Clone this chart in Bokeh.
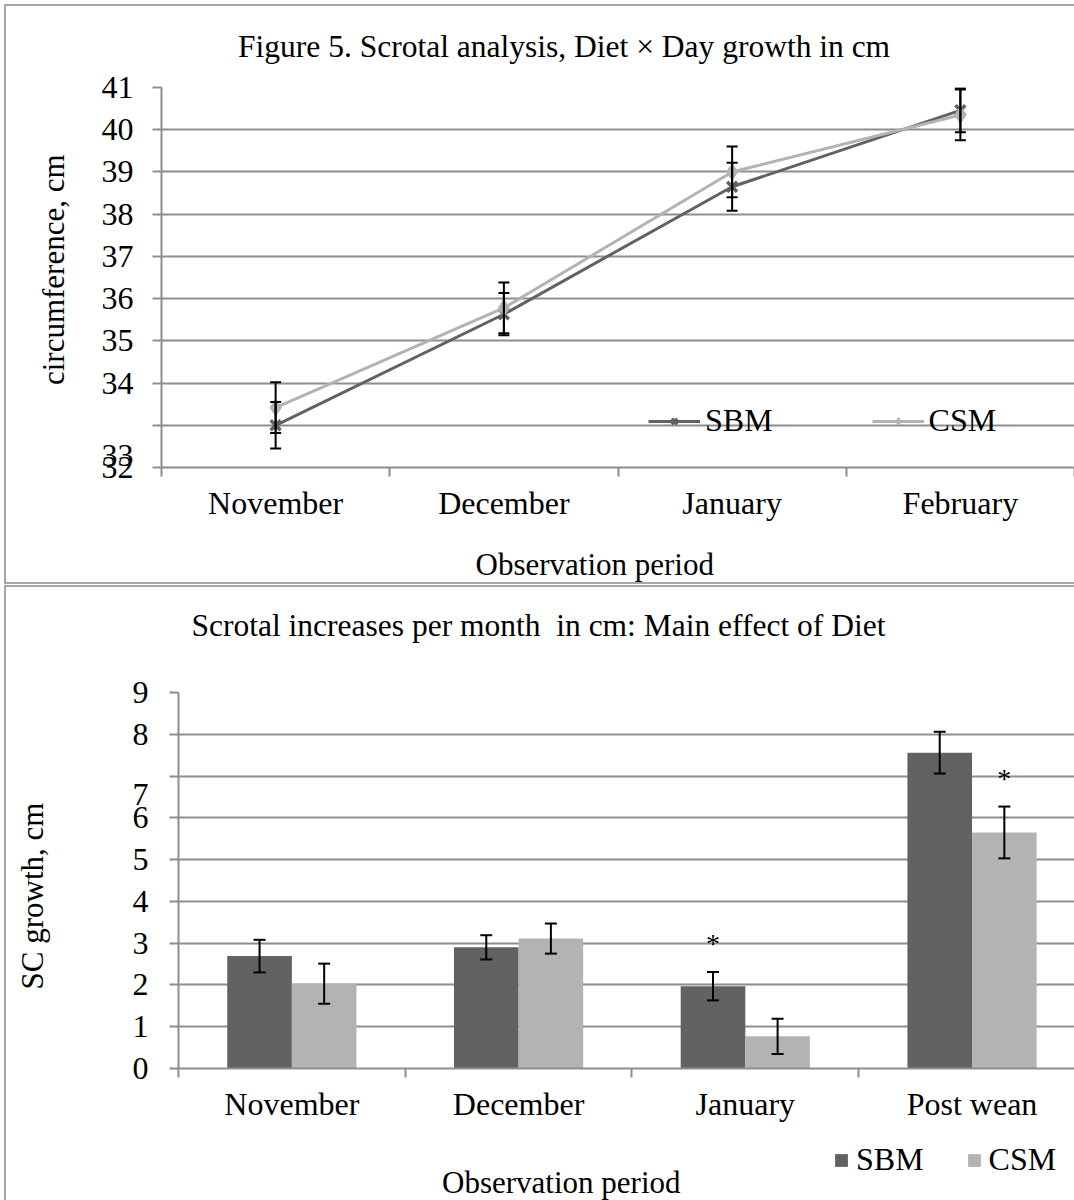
import numpy as np
from bokeh.plotting import figure
from bokeh.layouts import column
from bokeh.models import (ColumnDataSource, Range1d, FixedTicker, Whisker, TeeHead,
                          Legend, LegendItem, LinearAxis, Label)
from bokeh.embed import file_html
from bokeh.resources import INLINE
from bokeh.core.properties import value

# ---------------- data: Figure 5 (circumference) ----------------
months1 = ["November", "December", "January", "February"]
sbm_circ = [33.00, 35.63, 38.65, 40.46]
sbm_circ_se = [0.55, 0.50, 0.57, 0.52]
csm_circ = [33.42, 35.78, 39.00, 40.35]
csm_circ_se = [0.60, 0.60, 0.60, 0.60]
y1_ticks = [32, 33, 34, 35, 36, 37, 38, 39, 40, 41]
# tick labels as printed in the original (the "33" and "32" labels are crowded at the bottom)
y1_label_pos = [32.0, 32.28, 34, 35, 36, 37, 38, 39, 40, 41]
y1_labels = ["32", "33", "34", "35", "36", "37", "38", "39", "40", "41"]

# ---------------- data: monthly increases ----------------
months2 = ["November", "December", "January", "Post wean"]
sbm_growth = [2.69, 2.90, 1.97, 7.56]
sbm_growth_se = [0.39, 0.29, 0.34, 0.50]
csm_growth = [2.03, 3.11, 0.77, 5.65]
csm_growth_se = [0.48, 0.36, 0.42, 0.62]
sbm_sig = ["", "", "*", ""]
csm_sig = ["", "", "", "*"]
y2_ticks = [0, 1, 2, 3, 4, 5, 6, 7, 8, 9]
# the "7" label is printed just above the "6" label in the original
y2_label_pos = [0, 1, 2, 3, 4, 5, 6, 6.55, 8, 9]
y2_labels = ["0", "1", "2", "3", "4", "5", "6", "7", "8", "9"]

series_names = ["SBM", "CSM"]
title1 = "Figure 5. Scrotal analysis, Diet \u00d7 Day growth in cm"
title2 = "Scrotal increases per month  in cm: Main effect of Diet"
xlabel = "Observation period"

# ---------------- styles ----------------
FONT = "Liberation Serif"
TICK_FS = "32px"
LAB_FS = "31px"
TITLE_FS = "31.5px"
DARK = "#626262"
LIGHT = "#b3b3b3"
GRID = "#8e8e8e"
EDGE = "#a6a6a6"
NB = "\u00a0"
W = 1074


def key(t):
    t = float(t)
    return int(t) if t.is_integer() else t


def keep_spaces(s):
    # keep doubled spaces visible in SVG text
    return s.replace("  ", " " + NB)


def base_style(p):
    p.outline_line_color = None
    p.border_fill_color = None
    p.background_fill_color = None


def chart_style(p):
    base_style(p)
    p.xgrid.visible = False
    p.ygrid.grid_line_color = GRID
    p.ygrid.grid_line_width = 2


def y_axes(p, ticks, label_pos, labels, title, title_standoff, label_standoff):
    ya = p.yaxis[0]
    ya.ticker = FixedTicker(ticks=ticks)
    p.ygrid.ticker = FixedTicker(ticks=ticks)
    ya.major_label_overrides = {key(t): "" for t in ticks}
    ya.major_label_standoff = 0
    ya.axis_line_color = GRID
    ya.axis_line_width = 2
    ya.major_tick_line_color = GRID
    ya.major_tick_line_width = 2
    ya.major_tick_out = 9
    ya.major_tick_in = 0
    ya.minor_tick_line_color = None
    lab = LinearAxis(ticker=FixedTicker(ticks=label_pos),
                     major_label_overrides={key(t): s for t, s in zip(label_pos, labels)},
                     axis_line_color=None, major_tick_line_color=None, minor_tick_line_color=None,
                     major_tick_out=0, major_tick_in=0, major_label_standoff=label_standoff,
                     major_label_text_font=FONT, major_label_text_font_size=TICK_FS,
                     major_label_text_color="black",
                     axis_label=title, axis_label_standoff=title_standoff,
                     axis_label_text_font=FONT, axis_label_text_font_size=LAB_FS,
                     axis_label_text_font_style="normal", axis_label_text_color="black")
    p.add_layout(lab, "left")


def x_axis(p, cats, title=None, title_standoff=0):
    xa = p.xaxis[0]
    centers = [float(c) for c in np.arange(len(cats)) + 0.5]
    xa.ticker = FixedTicker(ticks=centers, minor_ticks=list(range(len(cats) + 1)))
    xa.major_label_overrides = {key(c): name for c, name in zip(centers, cats)}
    xa.axis_line_color = GRID
    xa.axis_line_width = 2
    xa.major_tick_line_color = None
    xa.major_tick_out = 0
    xa.major_tick_in = 0
    xa.minor_tick_line_color = GRID
    xa.minor_tick_line_width = 2
    xa.minor_tick_out = 9
    xa.minor_tick_in = 0
    xa.major_label_standoff = 8
    xa.major_label_text_font = FONT
    xa.major_label_text_font_size = TICK_FS
    xa.major_label_text_color = "black"
    if title:
        xa.axis_label = title
        xa.axis_label_standoff = title_standoff
        xa.axis_label_text_font = FONT
        xa.axis_label_text_font_size = LAB_FS
        xa.axis_label_text_font_style = "normal"
        xa.axis_label_text_color = "black"


def strip(height, shadow):
    s = figure(width=W, height=height, x_range=Range1d(0, W), y_range=Range1d(0, height),
               x_axis_location=None, y_axis_location=None, min_border=0,
               output_backend="svg", toolbar_location=None, frame_align=False)
    base_style(s)
    s.xgrid.visible = False
    s.ygrid.visible = False
    s.styles = {"box-shadow": shadow}
    return s


LEFT_EDGE = f"inset 4px 0 0 0 #ffffff, inset 6px 0 0 0 {EDGE}"

# ================= top chart =================
p1 = figure(width=W, height=584, x_range=Range1d(0, 4), y_range=Range1d(32, 41),
            output_backend="svg", toolbar_location=None, frame_align=False,
            min_border_left=161, min_border_right=0, min_border_top=87, min_border_bottom=114)
p1.styles = {"box-shadow": f"inset 4px 4px 0 0 #ffffff, inset 6px 6px 0 0 {EDGE}, inset 0 -2px 0 0 {EDGE}"}
chart_style(p1)
p1.title.text = title1
p1.title.align = "left"
p1.title.offset = 76.6
p1.title.standoff = 48
p1.title.text_font = FONT
p1.title.text_font_size = TITLE_FS
p1.title.text_font_style = "normal"
p1.title.text_color = "black"
y_axes(p1, y1_ticks, y1_label_pos, y1_labels, NB * 2 + "circumference, cm", 28, 19)
x_axis(p1, months1, xlabel + NB * 6, 23)

x1 = np.arange(len(months1)) + 0.5
src1 = ColumnDataSource(dict(
    x=x1,
    sbm=sbm_circ, sbm_lo=np.array(sbm_circ) - np.array(sbm_circ_se),
    sbm_hi=np.array(sbm_circ) + np.array(sbm_circ_se),
    csm=csm_circ, csm_lo=np.array(csm_circ) - np.array(csm_circ_se),
    csm_hi=np.array(csm_circ) + np.array(csm_circ_se),
))

l_sbm = p1.line("x", "sbm", source=src1, line_color=DARK, line_width=3)
m_sbm = p1.scatter("x", "sbm", source=src1, marker="x", size=14, line_width=3.5, color=DARK)
l_csm = p1.line("x", "csm", source=src1, line_color=LIGHT, line_width=3)
m_csm = p1.scatter("x", "csm", source=src1, marker="diamond", size=17, color=LIGHT)

for k in ("sbm", "csm"):
    p1.add_layout(Whisker(base="x", lower=k + "_lo", upper=k + "_hi", source=src1,
                          line_color="black", line_width=2, level="overlay",
                          upper_head=TeeHead(size=11, line_width=2, line_color="black"),
                          lower_head=TeeHead(size=11, line_width=2, line_color="black")))

leg1 = Legend(items=[LegendItem(label=series_names[0], renderers=[l_sbm, m_sbm]),
                     LegendItem(label=series_names[1], renderers=[l_csm, m_csm])],
              location=(487, 28), orientation="horizontal", glyph_width=52, glyph_height=20,
              label_standoff=5, spacing=99, padding=0, margin=0,
              border_line_color=None, background_fill_alpha=0,
              label_text_font=FONT, label_text_font_size=TICK_FS, label_text_color="black")
p1.add_layout(leg1)

# ================= bottom chart: title strip =================
p2t = strip(88, f"inset 4px 1px 0 0 #ffffff, inset 6px 3px 0 0 {EDGE}")
p2t.add_layout(Label(x=191, y=47, text=keep_spaces(title2), text_align="left",
                     text_baseline="middle", text_font=FONT, text_font_size=TITLE_FS,
                     text_color="black"))

# ================= bottom chart =================
p2 = figure(width=W, height=458, x_range=Range1d(0, 3.952), y_range=Range1d(0, 9),
            output_backend="svg", toolbar_location=None, frame_align=False,
            min_border_left=178, min_border_right=0, min_border_top=20, min_border_bottom=62)
p2.styles = {"box-shadow": LEFT_EDGE}
chart_style(p2)
y_axes(p2, y2_ticks, y2_label_pos, y2_labels, "SC growth, cm" + NB * 4, 80, 21)
x_axis(p2, months2)

bw = 0.285
x2 = np.arange(len(months2)) + 0.5
src2 = ColumnDataSource(dict(
    xs=x2 - bw / 2, xc=x2 + bw / 2,
    sbm=sbm_growth, sbm_lo=np.array(sbm_growth) - np.array(sbm_growth_se),
    sbm_hi=np.array(sbm_growth) + np.array(sbm_growth_se),
    csm=csm_growth, csm_lo=np.array(csm_growth) - np.array(csm_growth_se),
    csm_hi=np.array(csm_growth) + np.array(csm_growth_se),
    sbm_sig=sbm_sig, csm_sig=csm_sig,
))

p2.vbar(x="xs", top="sbm", bottom=0, width=bw, source=src2, fill_color=DARK, line_color=None)
p2.vbar(x="xc", top="csm", bottom=0, width=bw, source=src2, fill_color=LIGHT, line_color=None)

for xk, k in (("xs", "sbm"), ("xc", "csm")):
    p2.add_layout(Whisker(base=xk, lower=k + "_lo", upper=k + "_hi", source=src2,
                          line_color="black", line_width=2, level="overlay",
                          upper_head=TeeHead(size=12, line_width=2, line_color="black"),
                          lower_head=TeeHead(size=12, line_width=2, line_color="black")))
    p2.text(x=xk, y=k + "_hi", text=k + "_sig", source=src2, text_align="center",
            text_baseline="middle", y_offset=-28, text_font=value(FONT),
            text_font_size=value("28px"), text_color="black")

# ================= bottom chart: legend + axis title strip =================
# legend swatches: zero-height stand-in bars (nothing visible) carrying the series colours
p3 = strip(70, LEFT_EDGE)
swatch = ColumnDataSource(dict(x=[0.0], top=[0.0]))
d_sbm = p3.vbar(x="x", top="top", bottom=0, width=0, source=swatch, fill_color=DARK, line_color=None)
d_csm = p3.vbar(x="x", top="top", bottom=0, width=0, source=swatch, fill_color=LIGHT, line_color=None)
leg2 = Legend(items=[LegendItem(label=series_names[0], renderers=[d_sbm]),
                     LegendItem(label=series_names[1], renderers=[d_csm])],
              location=(833, 22), orientation="horizontal", glyph_width=16, glyph_height=16,
              label_standoff=7, spacing=42, padding=0, margin=0,
              border_line_color=None, background_fill_alpha=0,
              label_text_font=FONT, label_text_font_size=TICK_FS, label_text_color="black")
p3.add_layout(leg2)
p3.add_layout(Label(x=680, y=18, text=xlabel, text_align="right", text_baseline="middle",
                    text_font=FONT, text_font_size=LAB_FS, text_color="black"))

layout = column(p1, p2t, p2, p3, spacing=0)
open("out.html", "w").write(file_html(layout, INLINE))
